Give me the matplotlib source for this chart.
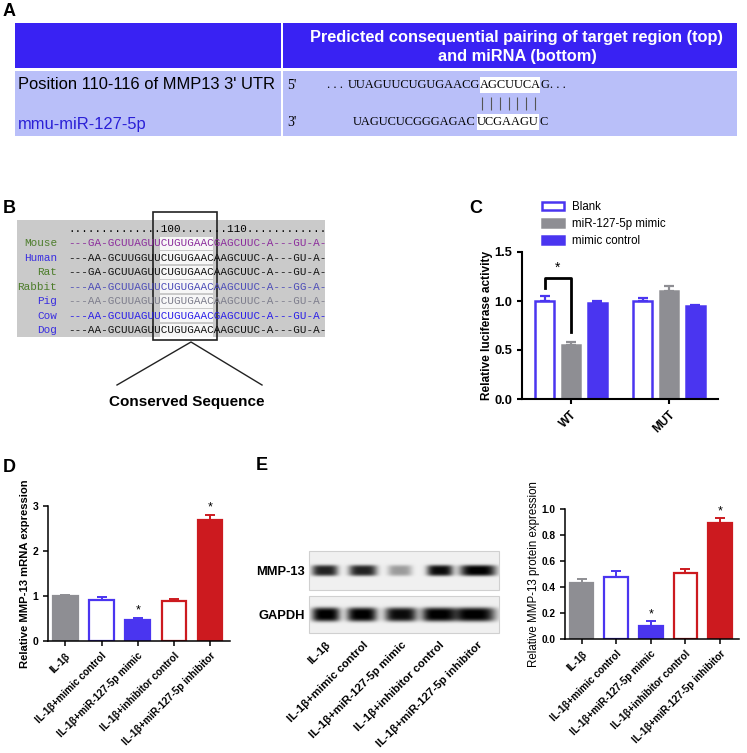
import numpy as np
import matplotlib
matplotlib.use("Agg")
import matplotlib.pyplot as plt
from matplotlib.patches import Rectangle

plt.rcParams['font.family'] = ['Liberation Sans', 'DejaVu Sans']

# ---- data ----
species = ['Mouse', 'Human', 'Rat', 'Rabbit', 'Pig', 'Cow', 'Dog']
alignment = ['---GA-GCUUAGUUCUGUGAACGAGCUUC-A---GU-A-',
             '---AA-GCUUGGUUCUGUGAACAAGCUUC-A---GU-A-',
             '---GA-GCUUAGUUCUGUGAACAAGCUUC-A---GU-A-',
             '---AA-GCUUAGUUCUGUGAACAAGCUUC-A---GG-A-',
             '---AA-GCUUAGUUCUGUGAACAAGCUUC-A---GU-A-',
             '---AA-GCUUAGUUCUGUGAACGAGCUUC-A---GU-A-',
             '---AA-GCUUAGUUCUGUGAACAAGCUUC-A---GU-A-']
ruler = '..............100.......110............'

luc_groups = ['WT', 'MUT']
blank_mean = [1.00, 1.00]
blank_err = [0.05, 0.03]
mimic_mean = [0.55, 1.10]
mimic_err = [0.03, 0.05]
ctrl_mean = [0.98, 0.95]
ctrl_err = [0.02, 0.01]

treatments = ['IL-1β', 'IL-1β+mimic control', 'IL-1β+miR-127-5p mimic',
              'IL-1β+inhibitor control', 'IL-1β+miR-127-5p inhibitor']
mrna_mean = [1.01, 0.92, 0.46, 0.89, 2.68]
mrna_err = [0.02, 0.05, 0.06, 0.05, 0.13]
protein_mean = [0.43, 0.48, 0.10, 0.51, 0.89]
protein_err = [0.03, 0.04, 0.035, 0.028, 0.038]
signif = [False, False, True, False, True]
mmp13_band = [0.85, 0.85, 0.35, 0.95, 1.00]
gapdh_band = [1.00, 1.00, 0.95, 1.00, 1.00]

BLUE = '#4a35f0'
GREY = '#8e8e93'
RED = '#cc1a1f'

W, H = 747, 753
fig = plt.figure(figsize=(W / 100, H / 100), dpi=100)


def px_axes(x0, y0, x1, y1):
    return fig.add_axes([x0 / W, 1 - y1 / H, (x1 - x0) / W, (y1 - y0) / H])


ov = fig.add_axes([0, 0, 1, 1])
ov.axis('off')

# panel letters
for letter, (lx, ly) in zip('ABCDE', [(9, 11), (9, 208), (476, 208), (9, 467), (262, 465)]):
    ov.text(lx, ly, letter, fontsize=13, fontweight='bold', ha='center', va='center')

# ---- A: table ----
head_c = '#3922f3'
body_c = '#b9bff9'
ov.add_patch(Rectangle((15, 23), 266, 45, color=head_c, lw=0))
ov.add_patch(Rectangle((283, 23), 454, 45, color=head_c, lw=0))
ov.add_patch(Rectangle((15, 71), 266, 65, color=body_c, lw=0))
ov.add_patch(Rectangle((283, 71), 454, 65, color=body_c, lw=0))
ov.text(517, 47, 'Predicted consequential pairing of target region (top)\nand miRNA (bottom)',
        color='white', fontweight='bold', fontsize=11.8, ha='center', va='center', linespacing=1.3)
ov.text(18, 84, "Position 110-116 of MMP13 3' UTR", fontsize=11.9, va='center')
ov.text(18, 124, 'mmu-miR-127-5p', fontsize=11.9, va='center', color='#2a1fd6')

serif = dict(family='Liberation Serif', fontsize=8.9, va='center')
ov.text(287, 85, "5'", fontsize=10, family='Liberation Serif', va='center')
ov.text(287, 122, "3'", fontsize=10, family='Liberation Serif', va='center')
ov.add_patch(Rectangle((480, 77), 60, 16, color='white', lw=0))
ov.add_patch(Rectangle((477, 114), 62, 16, color='white', lw=0))
ov.text(346, 85, '. . . ', ha='right', **serif)
ov.text(480, 85, 'UUAGUUCUGUGAACG', ha='right', **serif)
ov.text(510, 85, 'AGCUUCA', ha='center', **serif)
ov.text(541, 85, 'G. . .', ha='left', **serif)
ov.text(476, 122, 'UAGUCUCGGGAGAC', ha='right', **serif)
ov.text(508, 122, 'UCGAAGU', ha='center', **serif)
ov.text(539, 122, 'C', ha='left', **serif)
ov.vlines(np.linspace(482, 535, 7), 97, 110, color='#555555', lw=0.8)

# ---- B: alignment ----
ov.add_patch(Rectangle((17, 220), 308, 117, color='#cacaca', lw=0))
mono = dict(family='Liberation Mono', fontsize=7.9, va='center')
pitch = 7.9 * 100 / 72 * 0.6
seq_x = 68
row_y = [243, 257.5, 272, 286.5, 301, 315.5, 330]
name_cols = ['#4d7d2b', '#3a2ee0', '#4d7d2b', '#4d7d2b', '#3a2ee0', '#3a2ee0', '#3a2ee0']
seq_cols = ['#8b2c9c', '#111111', '#111111', '#4c4cb8', '#7d7d8c', '#2a1ee8', '#111111']
for y in row_y:
    ov.add_patch(Rectangle((seq_x + 14 * pitch, y - 6.5), 8 * pitch, 13, color='#f7f7f7', lw=0))
ov.text(seq_x, 229, ruler, **mono)
for name, seq, y, nc, sc in zip(species, alignment, row_y, name_cols, seq_cols):
    ov.text(57, y, name, ha='right', color=nc, **mono)
    ov.text(seq_x, y, seq, ha='left', color=sc, **mono)
ov.add_patch(Rectangle((153, 212), 64, 128, fill=False, ec='#222222', lw=1.2))
ov.plot([117, 191, 262], [385, 342, 385], color='#222222', lw=1.0)
ov.text(187, 402, 'Conserved Sequence', fontsize=11, fontweight='bold', ha='center', va='center')


def style_axes(ax, lw):
    for s in ['top', 'right']:
        ax.spines[s].set_visible(False)
    for s in ['left', 'bottom']:
        ax.spines[s].set_linewidth(lw)
    ax.tick_params(direction='out', width=lw, length=3.5)
    ax.set_facecolor('none')


# ---- C: luciferase ----
axc = px_axes(522, 252, 718, 399)
xg = np.arange(len(luc_groups))
off, bw = 0.27, 0.19
series = [(blank_mean, blank_err, -off, 'white', BLUE, 'Blank'),
          (mimic_mean, mimic_err, 0, GREY, GREY, 'miR-127-5p mimic'),
          (ctrl_mean, ctrl_err, off, BLUE, BLUE, 'mimic control')]
handles = []
for m, e, dx, fc, ec, lab in series:
    b = axc.bar(xg + dx, m, width=bw, color=fc, edgecolor=ec, linewidth=1.8, label=lab, zorder=2)
    axc.errorbar(xg + dx, m, yerr=[np.zeros(len(e)), e], fmt='none', ecolor=ec,
                 elinewidth=1.6, capsize=3.5, capthick=1.6, zorder=3)
    handles.append(b)
axc.plot([-off, -off, 0, 0], [1.13, 1.235, 1.235, 0.68], color='black', lw=2, zorder=4)
axc.text(-off / 2, 1.27, '*', ha='center', va='bottom', fontsize=10)
axc.set_xlim(-0.5, 1.5)
axc.set_ylim(0, 1.5)
axc.set_yticks([0, 0.5, 1.0, 1.5])
axc.set_yticklabels(['0.0', '0.5', '1.0', '1.5'], fontweight='bold', fontsize=9.3)
axc.set_xticks(xg)
axc.set_xticklabels(luc_groups, rotation=45, ha='right', rotation_mode='anchor',
                    fontweight='bold', fontsize=8.5)
axc.set_ylabel('Relative luciferase activity', fontweight='bold', fontsize=8.6, labelpad=1)
style_axes(axc, 1.5)
axc.legend(handles=handles, loc='upper left', bbox_to_anchor=(542 / W, 1 - 201 / H),
           bbox_transform=fig.transFigure, frameon=False, fontsize=8.3, handlelength=1.9,
           handleheight=0.7, labelspacing=0.45, handletextpad=0.7, borderpad=0, borderaxespad=0)

# ---- D and F: treatment bars ----
t_face = [GREY, 'white', BLUE, 'white', RED]
t_edge = [GREY, BLUE, BLUE, RED, RED]


def treat_bars(ax, means, errs, star_gap):
    x = np.arange(len(means))
    ax.bar(x, means, width=0.68, color=t_face, edgecolor=t_edge, linewidth=1.6, zorder=2)
    for xi, m, e, c, s in zip(x, means, errs, t_edge, signif):
        ax.errorbar(xi, m, yerr=[[0], [e]], fmt='none', ecolor=c, elinewidth=1.4,
                    capsize=3.5, capthick=1.4, zorder=3)
        if s:
            ax.text(xi, m + e + star_gap, '*', ha='center', va='bottom', fontsize=9)
    ax.set_xticks(x)
    ax.set_xticklabels(treatments, rotation=45, ha='right', rotation_mode='anchor',
                       fontweight='bold', fontsize=7.2)
    ax.set_xlim(-0.48, len(means) - 0.45)
    style_axes(ax, 1.1)


axd = px_axes(48, 506, 230, 641)
treat_bars(axd, mrna_mean, mrna_err, 0.02)
axd.set_ylim(0, 3)
axd.set_yticks([0, 1, 2, 3])
axd.set_yticklabels(['0', '1', '2', '3'], fontweight='bold', fontsize=7.5)
axd.set_ylabel('Relative MMP-13 mRNA expression', fontweight='bold', fontsize=8.1, labelpad=2)

axf = px_axes(565, 509, 739, 639)
treat_bars(axf, protein_mean, protein_err, 0.005)
axf.set_ylim(0, 1.0)
axf.set_yticks(np.arange(0, 1.01, 0.2))
axf.set_yticklabels(['0.0', '0.2', '0.4', '0.6', '0.8', '1.0'], fontweight='bold', fontsize=7.3)
axf.set_ylabel('Relative MMP-13 protein expression', fontsize=8.3, labelpad=1)

# ---- E: western blot ----
bx0, bx1 = 309, 499


def blot_strip(y0, y1, centers, halfw, intens, thick):
    xs = np.arange(bx0, bx1) + 0.5
    ys = np.arange(y0, y1) + 0.5
    X, Y = np.meshgrid(xs, ys)
    yc = (y0 + y1) / 2
    dark = np.zeros_like(X)
    for c, hw, a in zip(centers, halfw, intens):
        dark += a * np.exp(-((X - c) / hw) ** 4) * np.exp(-((Y - yc) / thick) ** 4)
    img = 0.94 - 0.95 * np.clip(dark, 0, 1)
    ov.imshow(np.clip(img, 0, 1), cmap='gray', vmin=0, vmax=1, extent=(bx0, bx1, y1, y0),
              aspect='auto', interpolation='bilinear')
    ov.add_patch(Rectangle((bx0, y0), bx1 - bx0, y1 - y0, fill=False, ec='#d0d0d0', lw=0.8))


blot_strip(551, 590, [325, 363, 400, 440, 478], [13, 14, 12, 13, 18], mmp13_band, 5.5)
blot_strip(596, 633, [326, 362, 401, 438, 474], [14, 15, 16, 16, 21], gapdh_band, 7.0)
ov.text(305, 572, 'MMP-13', fontsize=9.3, fontweight='bold', ha='right', va='center')
ov.text(305, 616, 'GAPDH', fontsize=9.3, fontweight='bold', ha='right', va='center')
for cx, lab in zip([329, 367, 405, 443, 481], treatments):
    ov.text(cx, 643, lab, rotation=45, ha='right', va='center', rotation_mode='anchor',
            fontsize=8.2, fontweight='bold')

ov.set_xlim(0, W)
ov.set_ylim(H, 0)

fig.savefig('out.png', dpi=100, facecolor='white')
